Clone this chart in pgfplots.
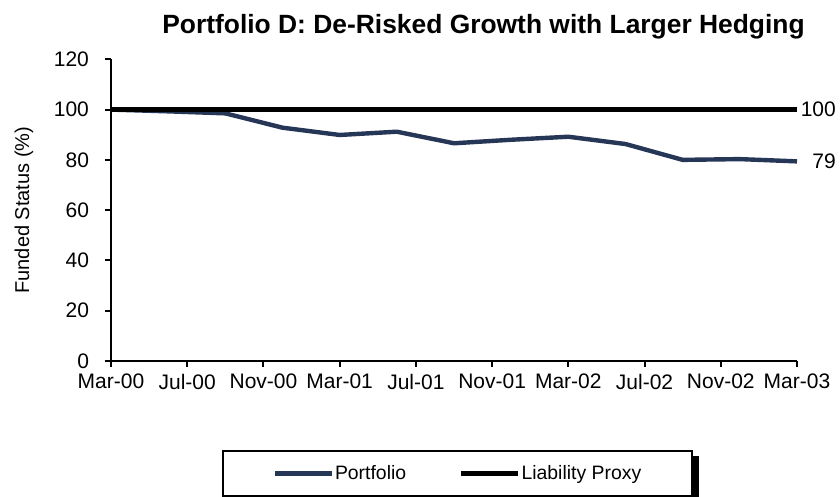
\documentclass[border=0pt]{standalone}
\usepackage{fontspec}
\setmainfont{Liberation Sans}
\usepackage{pgfplots}
\pgfplotsset{compat=1.18}
\usetikzlibrary{backgrounds}

\definecolor{navy}{HTML}{263657}

% funded status, months after Mar-00
\pgfplotstableread{
m   fs
0   100.0
3   99.3
6   98.5
9   92.8
12  89.9
15  91.2
18  86.6
21  88.0
24  89.2
27  86.3
30  80.0
33  80.3
36  79.4
}\portfolio

\pgfplotstableread{
m   fs
0   100
36  100
}\liability

\begin{document}
\begin{tikzpicture}
\begin{axis}[
  name=ax,
  width=343pt, height=150.85pt, scale only axis,
  xmin=0, xmax=36, ymin=0, ymax=120,
  xtick={0,4,...,36},
  xticklabels={Mar-00,Jul-00,Nov-00,Mar-01,Jul-01,Nov-01,Mar-02,Jul-02,Nov-02,Mar-03},
  ytick={0,20,...,120},
  axis x line=bottom, axis y line=left,
  axis line style={-, line width=1pt},
  tick align=outside, major tick length=3pt,
  tick style={line width=1pt, black},
  /pgf/number format/assume math mode=true,
  tick label style={font=\fontsize{10.5}{12}\selectfont},
  yticklabel style={xshift=-4.5pt},
  ylabel={Funded Status (\%)},
  ylabel style={at={(rel axis cs:-0.127,0.5)}, anchor=center, font=\fontsize{10}{12}\selectfont},
  title={Portfolio D: De-Risked Growth with Larger Hedging},
  every axis title shift=0pt,
  title style={at={(rel axis cs:0.543,1.087)}, anchor=base, font=\bfseries\fontsize{13.2}{15}\selectfont},
  clip=false,
  legend columns=2,
  legend image code/.code={\draw[#1] (0pt,0pt) -- (28.5pt,0pt);},
  legend style={name=leg, at={(rel axis cs:0.505,-0.373)}, anchor=center,
    draw=black, line width=1pt, fill=white,
    inner xsep=25pt, inner ysep=5pt,
    font=\fontsize{9.7}{11}\selectfont,
    nodes={inner xsep=0.5pt}},
  /tikz/every even column/.append style={column sep=26pt},
]
\addplot[navy, line width=2.2pt, line join=round]
  table[x=m, y=fs] {\portfolio}
  node[pos=1, anchor=east, inner sep=0pt, xshift=20.5pt, black, font=\fontsize{10.5}{12}\selectfont] {79};
\addlegendentry{Portfolio}
\addplot[black, line width=2.2pt]
  table[x=m, y=fs] {\liability}
  node[pos=1, anchor=east, inner sep=0pt, xshift=20.5pt, black, font=\fontsize{10.5}{12}\selectfont] {100};
\addlegendentry{Liability Proxy}
\end{axis}
\begin{scope}[on background layer]
  \fill[black] ([xshift=3pt,yshift=-3pt]leg.south west) rectangle ([xshift=3pt,yshift=-3pt]leg.north east);
\end{scope}
\pgfresetboundingbox
\path ([xshift=-55.5pt,yshift=-68pt]ax.south west) rectangle ([xshift=21.5pt,yshift=29.65pt]ax.north east);
\end{tikzpicture}
\end{document}
